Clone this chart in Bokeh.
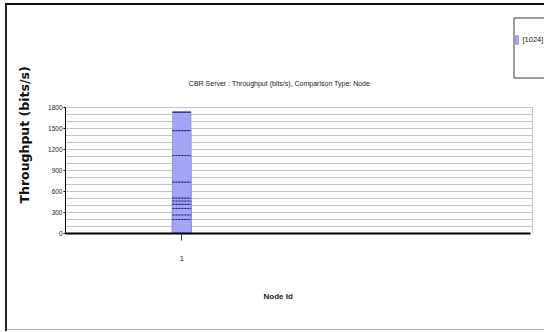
from bokeh.embed import file_html
from bokeh.models import (BoxAnnotation, FixedTicker, Label, Legend, LegendItem,
                          Range1d, Title)
from bokeh.plotting import figure
from bokeh.resources import INLINE

# ---- data -------------------------------------------------------------
node_ids = [1]
series_name = "[1024]"
# throughput samples recorded for node 1 (bits/s), drawn as overlapping bars
throughput = [1733, 1471, 1114, 733, 504, 464, 417, 357, 264, 200]
y_ticks = [0, 300, 600, 900, 1200, 1500, 1800]
grid_step = 100

title_text = "CBR Server : Throughput (bits/s), Comparison Type: Node"
x_title = "Node Id"
y_title = "Throughput (bits/s)"

# ---- layout constants (canvas pixels) ---------------------------------
W, H = 544, 332
PL, PR, PT, PB = 63, 530, 107, 233  # plot area edges (value axis 0..1800)
FT = 8                              # frame reaches up to here, so the title
                                    # and legend can live inside it

BAR_FILL = "#a3a3f7"
BAR_EDGE = "#1c1c6e"
SANS = "Liberation Sans"

y_max = y_ticks[-1]
y_end = y_max * (PB - FT) / (PB - PT)
x_start, x_stop = 0.5, 2.5
x_end = x_start + (x_stop - x_start) * (W - PL) / (PR - PL)


def sx(cx):
    """canvas x -> screen units measured from the frame's left edge"""
    return cx - PL


def sy(cy):
    """canvas y (from top) -> screen units measured up from the frame bottom"""
    return PB - cy


def screen_box(l, r, t, b, color, level="underlay"):
    """filled rectangle given in canvas pixels"""
    p.add_layout(BoxAnnotation(
        left=sx(l), right=sx(r), top=sy(t), bottom=sy(b),
        left_units="screen", right_units="screen",
        top_units="screen", bottom_units="screen",
        fill_color=color, fill_alpha=1, line_color=None, level=level))


# chart border: dark on top and left, light grey at the bottom
border_css = (
    "linear-gradient(#111,#111) 5px 3px / 545px 2px no-repeat, "
    "linear-gradient(#222,#222) 5px 3px / 2px 328px no-repeat, "
    "linear-gradient(#a8a8a8,#a8a8a8) 5px 329px / 545px 1px no-repeat, "
    "white"
)

p = figure(
    width=W, height=H,
    output_backend="svg", toolbar_location=None,
    title_location=None,
    x_range=Range1d(x_start, x_end), y_range=Range1d(0, y_end),
    min_border_left=PL, min_border_right=0,
    min_border_top=FT, min_border_bottom=H - PB,
    background_fill_color="white", border_fill_color=None,
    styles={"background": border_css},
)
p.outline_line_color = None

# grid: a line every 100 bits/s up to the top of the value axis
p.xgrid.visible = False
p.ygrid.ticker = FixedTicker(ticks=list(range(0, y_max + grid_step, grid_step)))
p.ygrid.grid_line_color = "#c4c4c4"
p.ygrid.grid_line_width = 1

# y axis
p.yaxis.ticker = FixedTicker(ticks=y_ticks)
p.yaxis.bounds = (0, y_max)
p.yaxis.axis_line_color = "black"
p.yaxis.axis_line_width = 1
p.yaxis.major_tick_out = 2
p.yaxis.major_tick_in = 0
p.yaxis.minor_tick_out = 0
p.yaxis.minor_tick_in = 0
p.yaxis.major_label_text_font = SANS
p.yaxis.major_label_text_font_size = "6.5px"
p.yaxis.major_label_text_color = "#222222"
p.yaxis.major_label_standoff = 1

# x axis
p.xaxis.ticker = FixedTicker(ticks=node_ids)
p.xaxis.bounds = (x_start, x_stop)
p.xaxis.axis_line_color = "black"
p.xaxis.axis_line_width = 2
p.xaxis.major_tick_out = 7
p.xaxis.major_tick_in = 0
p.xaxis.major_tick_line_color = "#333333"
p.xaxis.minor_tick_out = 0
p.xaxis.minor_tick_in = 0
p.xaxis.major_label_text_font = SANS
p.xaxis.major_label_text_font_size = "7.5px"
p.xaxis.major_label_text_color = "#222222"
p.xaxis.major_label_standoff = 15

# axis titles as side titles so they can sit off-centre
p.add_layout(Title(text=y_title, align="left", offset=30, standoff=28,
                   text_font="DejaVu Sans", text_font_size="12.5px",
                   text_font_style="bold", text_color="#111111"), "left")
p.add_layout(Title(text=x_title, align="left", offset=198, standoff=56,
                   vertical_align="top",
                   text_font=SANS, text_font_size="8px",
                   text_font_style="bold", text_color="#1a1a1a"), "below")

# white margin right of the plot area, closed by a light grey edge
screen_box(PR, W + 5, PT - 2, PB + 2, "white")
screen_box(PR - 0.5, PR + 0.5, PT, PB, "#c8c8c8")

# bars: every sample from zero to its value, same colour, one over another
bar_w = 0.08
ordered = sorted(throughput, reverse=True)
xs = [node_ids[0]] * len(ordered)
bars = p.vbar(x=xs, top=ordered, bottom=0, width=bar_w,
              fill_color=BAR_FILL, line_color="#8f8fe0", line_width=0.6)

# dashed top edge of each overlapping bar, solid on the tallest one
x0 = [x - bar_w / 2 for x in xs]
x1 = [x + bar_w / 2 for x in xs]
p.segment(x0=x0[1:], x1=x1[1:], y0=ordered[1:], y1=ordered[1:],
          line_color=BAR_EDGE, line_width=1.2, line_dash="2 1")
p.segment(x0=x0[:1], x1=x1[:1], y0=ordered[:1], y1=ordered[:1],
          line_color=BAR_EDGE, line_width=1.2)

# chart title
p.add_layout(Label(
    x=sx(277), y=sy(83), x_units="screen", y_units="screen",
    text=title_text, text_font=SANS, text_font_size="7px",
    text_color="#1a1a1a", text_align="center", text_baseline="middle"))

# ---- legend box in the top-right corner, running off the right edge ---------
screen_box(511, W + 20, 17, 78, "#3a3a3a")
screen_box(512, W + 20, 18, 77, "white")
legend_pad = 4
legend = Legend(
    items=[LegendItem(label=series_name, renderers=[bars])],
    location=(sx(515.5 - legend_pad), sy(41 + legend_pad)),
    orientation="vertical",
    glyph_width=5, glyph_height=11,
    label_height=11, label_standoff=4,
    label_text_font=SANS, label_text_font_size="7.5px",
    label_text_color="#222222",
    padding=legend_pad, margin=0, spacing=0,
    border_line_color=None,
    background_fill_alpha=0,
)
p.add_layout(legend, "center")

open("out.html", "w").write(file_html(p, INLINE))
